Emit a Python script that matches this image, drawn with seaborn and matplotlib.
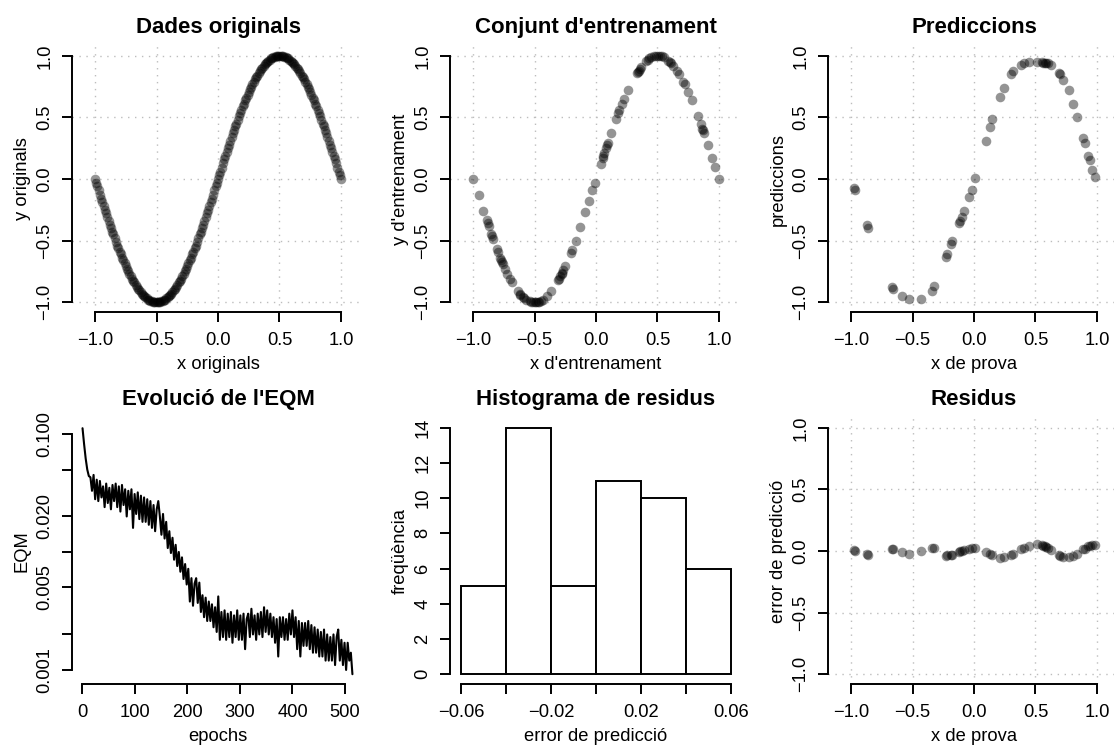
import numpy as np
import pandas as pd
import matplotlib
matplotlib.use("Agg")
import matplotlib.pyplot as plt
import seaborn as sns
from matplotlib.ticker import NullLocator

# ---------------- data ----------------
x_orig = [
    -1.00, -0.99, -0.98, -0.97, -0.96, -0.95, -0.94, -0.93, -0.92, -0.91,
    -0.90, -0.89, -0.88, -0.87, -0.86, -0.85, -0.84, -0.83, -0.82, -0.81,
    -0.80, -0.79, -0.78, -0.77, -0.76, -0.75, -0.74, -0.73, -0.72, -0.71,
    -0.70, -0.69, -0.68, -0.67, -0.66, -0.65, -0.64, -0.63, -0.62, -0.61,
    -0.60, -0.59, -0.58, -0.57, -0.56, -0.55, -0.54, -0.53, -0.52, -0.51,
    -0.50, -0.49, -0.48, -0.47, -0.46, -0.45, -0.44, -0.43, -0.42, -0.41,
    -0.40, -0.39, -0.38, -0.37, -0.36, -0.35, -0.34, -0.33, -0.32, -0.31,
    -0.30, -0.29, -0.28, -0.27, -0.26, -0.25, -0.24, -0.23, -0.22, -0.21,
    -0.20, -0.19, -0.18, -0.17, -0.16, -0.15, -0.14, -0.13, -0.12, -0.11,
    -0.10, -0.09, -0.08, -0.07, -0.06, -0.05, -0.04, -0.03, -0.02, -0.01,
    0.00, 0.01, 0.02, 0.03, 0.04, 0.05, 0.06, 0.07, 0.08, 0.09,
    0.10, 0.11, 0.12, 0.13, 0.14, 0.15, 0.16, 0.17, 0.18, 0.19,
    0.20, 0.21, 0.22, 0.23, 0.24, 0.25, 0.26, 0.27, 0.28, 0.29,
    0.30, 0.31, 0.32, 0.33, 0.34, 0.35, 0.36, 0.37, 0.38, 0.39,
    0.40, 0.41, 0.42, 0.43, 0.44, 0.45, 0.46, 0.47, 0.48, 0.49,
    0.50, 0.51, 0.52, 0.53, 0.54, 0.55, 0.56, 0.57, 0.58, 0.59,
    0.60, 0.61, 0.62, 0.63, 0.64, 0.65, 0.66, 0.67, 0.68, 0.69,
    0.70, 0.71, 0.72, 0.73, 0.74, 0.75, 0.76, 0.77, 0.78, 0.79,
    0.80, 0.81, 0.82, 0.83, 0.84, 0.85, 0.86, 0.87, 0.88, 0.89,
    0.90, 0.91, 0.92, 0.93, 0.94, 0.95, 0.96, 0.97, 0.98, 0.99,
    1.00,
]
y_orig = [
    0.00, -0.03, -0.06, -0.09, -0.13, -0.16, -0.19, -0.22, -0.25, -0.28,
    -0.31, -0.34, -0.37, -0.40, -0.43, -0.45, -0.48, -0.51, -0.54, -0.56,
    -0.59, -0.61, -0.64, -0.66, -0.68, -0.71, -0.73, -0.75, -0.77, -0.79,
    -0.81, -0.83, -0.84, -0.86, -0.88, -0.89, -0.90, -0.92, -0.93, -0.94,
    -0.95, -0.96, -0.97, -0.98, -0.98, -0.99, -0.99, -1.00, -1.00, -1.00,
    -1.00, -1.00, -1.00, -1.00, -0.99, -0.99, -0.98, -0.98, -0.97, -0.96,
    -0.95, -0.94, -0.93, -0.92, -0.90, -0.89, -0.88, -0.86, -0.84, -0.83,
    -0.81, -0.79, -0.77, -0.75, -0.73, -0.71, -0.68, -0.66, -0.64, -0.61,
    -0.59, -0.56, -0.54, -0.51, -0.48, -0.45, -0.43, -0.40, -0.37, -0.34,
    -0.31, -0.28, -0.25, -0.22, -0.19, -0.16, -0.13, -0.09, -0.06, -0.03,
    0.00, 0.03, 0.06, 0.09, 0.13, 0.16, 0.19, 0.22, 0.25, 0.28,
    0.31, 0.34, 0.37, 0.40, 0.43, 0.45, 0.48, 0.51, 0.54, 0.56,
    0.59, 0.61, 0.64, 0.66, 0.68, 0.71, 0.73, 0.75, 0.77, 0.79,
    0.81, 0.83, 0.84, 0.86, 0.88, 0.89, 0.90, 0.92, 0.93, 0.94,
    0.95, 0.96, 0.97, 0.98, 0.98, 0.99, 0.99, 1.00, 1.00, 1.00,
    1.00, 1.00, 1.00, 1.00, 0.99, 0.99, 0.98, 0.98, 0.97, 0.96,
    0.95, 0.94, 0.93, 0.92, 0.90, 0.89, 0.88, 0.86, 0.84, 0.83,
    0.81, 0.79, 0.77, 0.75, 0.73, 0.71, 0.68, 0.66, 0.64, 0.61,
    0.59, 0.56, 0.54, 0.51, 0.48, 0.45, 0.43, 0.40, 0.37, 0.34,
    0.31, 0.28, 0.25, 0.22, 0.19, 0.16, 0.13, 0.09, 0.06, 0.03,
    0.00,
]

x_train = [
    -1.00, -0.955, -0.915, -0.89, -0.88, -0.873, -0.85, -0.846, -0.835, -0.805,
    -0.80, -0.78, -0.77, -0.766, -0.757, -0.74, -0.72, -0.70, -0.685, -0.635,
    -0.62, -0.616, -0.595, -0.585, -0.568, -0.54, -0.53, -0.51, -0.495, -0.485,
    -0.473, -0.46, -0.45, -0.43, -0.40, -0.365, -0.305, -0.30, -0.29, -0.28,
    -0.276, -0.265, -0.25, -0.203, -0.195, -0.165, -0.127, -0.086, -0.057, -0.03,
    -0.008, 0.04, 0.054, 0.06, 0.068, 0.08, 0.09, 0.095, 0.12, 0.162,
    0.18, 0.19, 0.208, 0.224, 0.257, 0.33, 0.34, 0.346, 0.355, 0.365,
    0.405, 0.424, 0.43, 0.446, 0.47, 0.486, 0.505, 0.52, 0.535, 0.554,
    0.589, 0.60, 0.608, 0.627, 0.657, 0.676, 0.711, 0.72, 0.75, 0.78,
    0.83, 0.85, 0.865, 0.87, 0.878, 0.91, 0.946, 0.968, 1.00,
]
y_train = [
    0.00, -0.13, -0.26, -0.33, -0.36, -0.38, -0.45, -0.46, -0.49, -0.57,
    -0.59, -0.64, -0.66, -0.67, -0.69, -0.73, -0.77, -0.81, -0.84, -0.91,
    -0.93, -0.94, -0.96, -0.97, -0.98, -0.99, -0.995, -1.00, -1.00, -1.00,
    -1.00, -0.995, -0.99, -0.98, -0.95, -0.91, -0.82, -0.81, -0.79, -0.77,
    -0.76, -0.74, -0.71, -0.60, -0.58, -0.50, -0.39, -0.27, -0.18, -0.09,
    -0.03, 0.12, 0.17, 0.19, 0.21, 0.25, 0.28, 0.29, 0.37, 0.49,
    0.54, 0.56, 0.61, 0.65, 0.72, 0.86, 0.87, 0.88, 0.89, 0.91,
    0.96, 0.97, 0.98, 0.99, 1.00, 1.00, 1.00, 1.00, 0.995, 0.99,
    0.96, 0.95, 0.94, 0.92, 0.88, 0.85, 0.79, 0.77, 0.71, 0.64,
    0.51, 0.45, 0.41, 0.40, 0.37, 0.28, 0.17, 0.10, 0.00,
]

x_test = [
    -0.976, -0.967, -0.870, -0.860, -0.670, -0.656, -0.588, -0.526, -0.430, -0.340,
    -0.322, -0.230, -0.220, -0.190, -0.180, -0.122, -0.111, -0.100, -0.079, -0.040,
    -0.019, 0.011, 0.100, 0.130, 0.149, 0.211, 0.241, 0.300, 0.320, 0.382,
    0.409, 0.447, 0.510, 0.550, 0.564, 0.575, 0.583, 0.600, 0.626, 0.690,
    0.700, 0.726, 0.772, 0.808, 0.840, 0.889, 0.902, 0.930, 0.943, 0.962,
    0.984,
]
y_pred = [
    -0.07, -0.09, -0.37, -0.40, -0.88, -0.895, -0.95, -0.977, -0.977, -0.906,
    -0.868, -0.63, -0.61, -0.53, -0.50, -0.36, -0.34, -0.31, -0.26, -0.15,
    -0.087, 0.01, 0.31, 0.42, 0.486, 0.665, 0.741, 0.85, 0.877, 0.926,
    0.94, 0.95, 0.95, 0.947, 0.946, 0.945, 0.943, 0.94, 0.923, 0.857,
    0.85, 0.80, 0.72, 0.605, 0.505, 0.334, 0.293, 0.185, 0.157, 0.076,
    0.016,
]
residual = [
    0.005, 0.000, -0.027, -0.030, 0.019, 0.016, -0.008, -0.022, -0.003, 0.027,
    0.024, -0.038, -0.036, -0.033, -0.030, -0.006, -0.003, 0.000, 0.010, 0.020,
    0.027, 0.024, -0.008, -0.022, -0.035, -0.054, -0.050, -0.035, -0.025, 0.014,
    0.027, 0.040, 0.054, 0.046, 0.042, 0.038, 0.035, 0.027, 0.010, -0.035,
    -0.040, -0.049, -0.049, -0.043, -0.027, 0.014, 0.020, 0.038, 0.043, 0.049,
    0.046,
]

eqm = [
    0.112, 0.082, 0.062, 0.050, 0.044, 0.043, 0.033, 0.045, 0.028, 0.041,
    0.027, 0.040, 0.029, 0.036, 0.024, 0.038, 0.026, 0.035, 0.023, 0.037,
    0.027, 0.038, 0.024, 0.036, 0.022, 0.037, 0.025, 0.034, 0.020, 0.033,
    0.023, 0.034, 0.016, 0.031, 0.021, 0.032, 0.019, 0.030, 0.018, 0.029,
    0.018, 0.028, 0.017, 0.027, 0.016, 0.025, 0.015, 0.023, 0.027, 0.020,
    0.014, 0.021, 0.013, 0.018, 0.0108, 0.0150, 0.0098, 0.0132, 0.0086, 0.0115,
    0.0076, 0.0100, 0.0068, 0.0090, 0.0059, 0.0079, 0.0053, 0.0072, 0.0038, 0.0060,
    0.0035, 0.0054, 0.0060, 0.0037, 0.0055, 0.0031, 0.0043, 0.0028, 0.0041, 0.0026,
    0.0038, 0.0026, 0.0036, 0.0023, 0.0034, 0.0021, 0.0042, 0.0018, 0.0031, 0.0019,
    0.0032, 0.0018, 0.0030, 0.0019, 0.0031, 0.0017, 0.0029, 0.0019, 0.0032, 0.0018,
    0.0029, 0.0018, 0.0030, 0.0015, 0.0027, 0.0030, 0.0019, 0.0033, 0.0020, 0.0029,
    0.0018, 0.0030, 0.0020, 0.0031, 0.0019, 0.0034, 0.0021, 0.0032, 0.0020, 0.0030,
    0.0019, 0.0028, 0.0017, 0.0027, 0.0013, 0.0028, 0.0019, 0.0028, 0.0018, 0.0027,
    0.0018, 0.0030, 0.0020, 0.0032, 0.0019, 0.0028, 0.0015, 0.0026, 0.0013, 0.0025,
    0.0016, 0.0025, 0.0016, 0.0026, 0.0015, 0.0024, 0.0014, 0.0023, 0.0014, 0.0022,
    0.0013, 0.0021, 0.0013, 0.0022, 0.0012, 0.0020, 0.0012, 0.0019, 0.0012, 0.0020,
    0.0011, 0.0019, 0.0022, 0.0012, 0.0018, 0.0011, 0.0017, 0.0010, 0.0017, 0.0012,
    0.0014, 0.00092,
]
epochs = list(range(1, 3 * len(eqm), 3))[:len(eqm)]

hist_edges = [-0.06, -0.04, -0.02, 0.00, 0.02, 0.04, 0.06]
hist_counts = [5, 14, 5, 11, 10, 6]

unit_ticks = [-1.0, -0.5, 0.0, 0.5, 1.0]
unit_labels = ["\u22121.0", "\u22120.5", "0.0", "0.5", "1.0"]
epoch_ticks = [0, 100, 200, 300, 400, 500]
epoch_labels = ["0", "100", "200", "300", "400", "500"]
eqm_ticks = [0.001, 0.002, 0.005, 0.01, 0.02, 0.05, 0.1]
eqm_labels = ["0.001", "", "0.005", "", "0.020", "", "0.100"]
hist_xticks = [-0.06, -0.04, -0.02, 0.0, 0.02, 0.04, 0.06]
hist_xlabels = ["\u22120.06", "", "\u22120.02", "", "0.02", "", "0.06"]
hist_yticks = [0, 2, 4, 6, 8, 10, 12, 14]
hist_ylabels = ["0", "2", "4", "6", "8", "10", "12", "14"]

# ---------------- style ----------------
sns.set_theme(style="ticks")
plt.rcParams["font.family"] = ["Liberation Sans", "DejaVu Sans"]
plt.rcParams["axes.unicode_minus"] = True

W, H = 1114, 749
fig = plt.figure(figsize=(W / 100, H / 100), dpi=100)
fig.patch.set_facecolor("white")

AX_W, AX_H = 292, 266
COLS = [72, 450, 828]
ROWS = [46, 418]
FS = 13.2
LW = 1.4


def make_ax(col, row):
    l, t = COLS[col], ROWS[row]
    return fig.add_axes([l / W, 1 - (t + AX_H) / H, AX_W / W, AX_H / H])


def style(ax, xticks, xlabels, yticks, ylabels, xlim, ylim, xlab, ylab, title, grid):
    ax.set_xlim(xlim)
    ax.set_ylim(ylim)
    ax.set_xticks(xticks)
    ax.set_xticklabels(xlabels)
    ax.set_yticks(yticks)
    ax.set_yticklabels(ylabels, rotation=90, va="center")
    ax.minorticks_off()
    ax.yaxis.set_minor_locator(NullLocator())
    ax.xaxis.set_minor_locator(NullLocator())
    ax.set_facecolor("white")
    for s in ["top", "right"]:
        ax.spines[s].set_visible(False)
    for s in ["left", "bottom"]:
        ax.spines[s].set_linewidth(LW)
        ax.spines[s].set_color("black")
    ax.spines["left"].set_bounds(yticks[0], yticks[-1])
    ax.spines["bottom"].set_bounds(xticks[0], xticks[-1])
    ax.tick_params(direction="out", length=7.2, width=LW, color="black",
                   labelsize=FS, labelcolor="black")
    ax.tick_params(axis="x", pad=7.2)
    ax.tick_params(axis="y", pad=6.3)
    if grid:
        ax.grid(True, color="#bdbdbd", linestyle=(0, (1, 4)), linewidth=1.0)
    else:
        ax.grid(False)
    ax.set_xlabel(xlab, fontsize=FS, color="black")
    ax.set_ylabel(ylab, fontsize=FS, color="black")
    ax.xaxis.label.set_va("baseline")
    ax.yaxis.label.set_va("baseline")
    ax.xaxis.set_label_coords(0.5, -57 / AX_H)
    ax.yaxis.set_label_coords(-45 / AX_W, 0.5)
    ax.set_title(title, fontsize=16, fontweight="bold", pad=9.7, color="black")


pt_kw = dict(color="black", alpha=0.42, s=48, linewidth=0, legend=False)
UX = (-1.187, 1.187)
UY = (-1.08, 1.08)

# Panel 1
ax1 = make_ax(0, 0)
sns.scatterplot(x=x_orig, y=y_orig, ax=ax1, **pt_kw)
style(ax1, unit_ticks, unit_labels, unit_ticks, unit_labels, UX, UY,
      "x originals", "y originals", "Dades originals", True)

# Panel 2
ax2 = make_ax(1, 0)
sns.scatterplot(x=x_train, y=y_train, ax=ax2, **pt_kw)
style(ax2, unit_ticks, unit_labels, unit_ticks, unit_labels, UX, UY,
      "x d'entrenament", "y d'entrenament", "Conjunt d'entrenament", True)

# Panel 3
ax3 = make_ax(2, 0)
sns.scatterplot(x=x_test, y=y_pred, ax=ax3, **pt_kw)
style(ax3, unit_ticks, unit_labels, unit_ticks, unit_labels, UX, UY,
      "x de prova", "prediccions", "Prediccions", True)

# Panel 4
ax4 = make_ax(0, 1)
df_eqm = pd.DataFrame({"epoch": epochs, "eqm": eqm})
sns.lineplot(data=df_eqm, x="epoch", y="eqm", ax=ax4, color="black",
             linewidth=1.5, estimator=None, sort=True)
ax4.set_yscale("log")
style(ax4, epoch_ticks, epoch_labels, eqm_ticks, eqm_labels, (-19, 536),
      (0.00076, 0.1367), "epochs", "EQM", "Evolució de l'EQM", False)

# Panel 5
ax5 = make_ax(1, 1)
sns.histplot(x=hist_edges[:-1], weights=hist_counts, bins=hist_edges, ax=ax5,
             color="white", edgecolor="black", linewidth=LW, alpha=1.0,
             stat="count")
style(ax5, hist_xticks, hist_xlabels, hist_yticks, hist_ylabels,
      (-0.0648, 0.0648), (-0.56, 14.56), "error de predicció", "freqüència",
      "Histograma de residus", False)

# Panel 6
ax6 = make_ax(2, 1)
sns.scatterplot(x=x_test, y=residual, ax=ax6, **pt_kw)
style(ax6, unit_ticks, unit_labels, unit_ticks, unit_labels, UX, UY,
      "x de prova", "error de predicció", "Residus", True)

fig.savefig("out.png", dpi=100, facecolor="white")
